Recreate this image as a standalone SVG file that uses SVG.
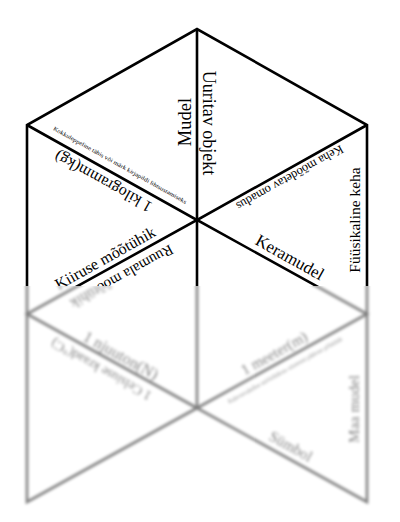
<svg xmlns="http://www.w3.org/2000/svg" width="400" height="522" viewBox="0 0 400 522">
<style>
.ln{fill:none;stroke:#000;stroke-width:2.6;stroke-linejoin:miter}
text{font-family:"Liberation Serif","Times New Roman",serif;fill:#000;text-anchor:middle}
</style>
<defs>
<clipPath id="clipTop"><rect x="0" y="0" width="400" height="286"/></clipPath>
<clipPath id="clipBot"><rect x="0" y="286" width="400" height="236"/></clipPath>
<filter id="blur" x="-5%" y="-5%" width="110%" height="110%"><feGaussianBlur stdDeviation="1.4"/></filter>
<g id="sheet">
  <g id="connectors">
    <path class="ln" d="M197,408 L27,502 V125 L197,29 L367,125 V502 Z"/>
    <path class="ln" d="M197,29 V408"/>
    <path class="ln" d="M27,125 L197,220 L27,314 L197,408"/>
    <path class="ln" d="M367,125 L197,220 L367,314 L197,408"/>
  </g>
  <g id="t-mudel"><text transform="translate(185,122) rotate(-90)" dy=".35em" font-size="18.5">Mudel</text></g>
  <g id="t-uuritav"><text transform="translate(209,123) rotate(90)" dy=".35em" font-size="18">Uuritav objekt</text></g>
  <g id="t-kokkuleppeline"><text transform="translate(120,165) rotate(29.2)" dy=".35em" font-size="6" textLength="152" lengthAdjust="spacingAndGlyphs">Kokkuleppeline tähis või märk kirjapildi lihtsustamiseks</text></g>
  <g id="t-kilogramm"><text transform="translate(103,182) rotate(209.2)" dy=".35em" font-size="16">1 kilogramm(kg)</text></g>
  <g id="t-keha-omadus"><text transform="translate(290,178) rotate(150.8)" dy=".35em" font-size="12.5">Keha mõõdetav omadus</text></g>
  <g id="t-fyysikaline"><text transform="translate(355,220) rotate(-90)" dy=".35em" font-size="15.5">Füüsikaline keha</text></g>
  <g id="t-kiiruse"><text transform="translate(105,258) rotate(-29.2)" dy=".35em" font-size="16">Kiiruse mõõtühik</text></g>
  <g id="t-ruumala"><text transform="translate(122,277) rotate(150.8)" dy=".35em" font-size="15">Ruumala mõõtühik</text></g>
  <g id="t-keramudel"><text transform="translate(290,257) rotate(29.2)" dy=".35em" font-size="17">Keramudel</text></g>
  <g id="t-njuuton"><text transform="translate(121,355) rotate(29.2)" dy=".35em" font-size="16">1 njuuton(N)</text></g>
  <g id="t-celsiuse"><text transform="translate(101,370) rotate(209.2)" dy=".35em" font-size="13.5">1 Celsiuse kraad(°C)</text></g>
  <g id="t-meeter"><text transform="translate(274,353) rotate(-29.2)" dy=".35em" font-size="15">1 meeter(m)</text></g>
  <g id="t-meeter-def"><text transform="translate(285,370) rotate(-29.2)" dy=".35em" font-size="6" textLength="130" lengthAdjust="spacingAndGlyphs">Rahvusvahelise mõõtühikute süsteemi pikkuse põhiühik</text></g>
  <g id="t-symbol"><text transform="translate(291,446) rotate(29.2)" dy=".35em" font-size="15">Sümbol</text></g>
  <g id="t-maa-mudel"><text transform="translate(354,409) rotate(-90)" dy=".35em" font-size="15">Maa mudel</text></g>
</g>
</defs>
<rect width="400" height="522" fill="#fff"/>
<use href="#sheet" clip-path="url(#clipTop)"/>
<g clip-path="url(#clipBot)"><use href="#sheet" filter="url(#blur)" opacity="0.5"/></g>
</svg>
